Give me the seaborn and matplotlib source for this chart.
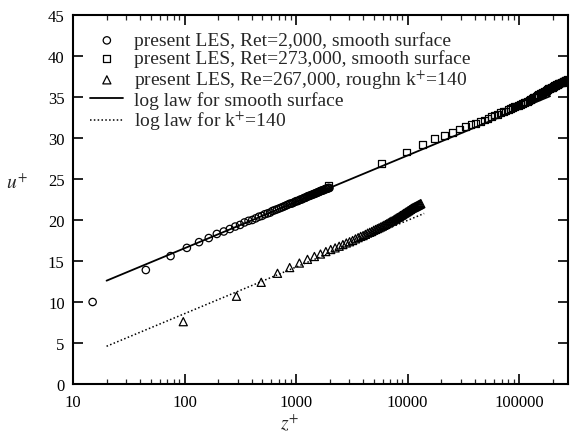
import matplotlib
matplotlib.use("Agg")
import matplotlib.pyplot as plt
import seaborn as sns
import numpy as np
from matplotlib.ticker import LogLocator, FixedLocator, NullFormatter, FixedFormatter

# ---- data ----
z_smooth_lo = [15, 45, 75, 105, 135, 165, 195, 225, 255, 285, 315, 345, 375, 405, 435,
               465, 495, 525, 555, 585, 615, 645, 675, 705, 735, 765, 795, 825, 855, 885,
               915, 945, 975, 1005, 1035, 1065, 1095, 1125, 1155, 1185, 1215, 1245, 1275,
               1305, 1335, 1365, 1395, 1425, 1455, 1485, 1515, 1545, 1575, 1605, 1635,
               1665, 1695, 1725, 1755, 1785, 1815, 1845, 1875, 1905, 1935, 1965, 1995]
u_smooth_lo = [10.0, 13.9, 15.6, 16.6, 17.3, 17.8, 18.3, 18.6, 18.9, 19.2, 19.4, 19.7, 19.9,
               20.0, 20.2, 20.4, 20.5, 20.7, 20.8, 20.9, 21.1, 21.2, 21.3, 21.4, 21.5, 21.6,
               21.7, 21.8, 21.9, 22.0, 22.0, 22.1, 22.2, 22.3, 22.3, 22.4, 22.5, 22.5, 22.6,
               22.7, 22.7, 22.8, 22.9, 22.9, 23.0, 23.0, 23.1, 23.1, 23.2, 23.2, 23.3, 23.3,
               23.4, 23.4, 23.5, 23.5, 23.6, 23.6, 23.6, 23.7, 23.7, 23.8, 23.8, 23.8, 23.9,
               23.9, 23.9]

z_smooth_hi = [1950, 5850, 9750, 13650, 17550, 21450, 25350, 29250, 33150, 37050, 40950,
               44850, 48750, 52650, 56550, 60450, 64350, 68250, 72150, 76050, 79950, 83850,
               87750, 91650, 95550, 99450, 103350, 107250, 111150, 115050, 118950, 122850,
               126750, 130650, 134550, 138450, 142350, 146250, 150150, 154050, 157950,
               161850, 165750, 169650, 173550, 177450, 181350, 185250, 189150, 193050,
               196950, 200850, 204750, 208650, 212550, 216450, 220350, 224250, 228150,
               232050, 235950, 239850, 243750, 247650, 251550, 255450, 259350, 263250,
               267150, 271050]
u_smooth_hi = [24.2, 26.9, 28.3, 29.2, 29.9, 30.3, 30.7, 31.1, 31.4, 31.6, 31.8, 32.0, 32.2,
               32.4, 32.6, 32.8, 32.9, 33.1, 33.2, 33.3, 33.5, 33.6, 33.7, 33.8, 33.9, 34.0,
               34.1, 34.2, 34.3, 34.4, 34.5, 34.6, 34.7, 34.8, 34.9, 35.0, 35.1, 35.2, 35.3,
               35.4, 35.4, 35.5, 35.6, 35.7, 35.7, 35.8, 35.9, 36.0, 36.0, 36.1, 36.2, 36.2,
               36.3, 36.4, 36.4, 36.5, 36.5, 36.6, 36.6, 36.7, 36.7, 36.8, 36.8, 36.9, 36.9,
               36.9, 37.0, 37.0, 37.0, 37.1]

z_rough = [97.5, 292.5, 487.5, 682.5, 877.5, 1072.5, 1267.5, 1462.5, 1657.5, 1852.5, 2047.5,
           2242.5, 2437.5, 2632.5, 2827.5, 3022.5, 3217.5, 3412.5, 3607.5, 3802.5, 3997.5,
           4192.5, 4387.5, 4582.5, 4777.5, 4972.5, 5167.5, 5362.5, 5557.5, 5752.5, 5947.5,
           6142.5, 6337.5, 6532.5, 6727.5, 6922.5, 7117.5, 7312.5, 7507.5, 7702.5, 7897.5,
           8092.5, 8287.5, 8482.5, 8677.5, 8872.5, 9067.5, 9262.5, 9457.5, 9652.5, 9847.5,
           10042.5, 10237.5, 10432.5, 10627.5, 10822.5, 11017.5, 11212.5, 11407.5, 11602.5,
           11797.5, 11992.5, 12187.5, 12382.5, 12577.5, 12772.5, 12967.5, 13162.5]
u_rough = [7.6, 10.7, 12.4, 13.5, 14.2, 14.75, 15.2, 15.55, 15.85, 16.15, 16.4, 16.6, 16.8,
           17.0, 17.2, 17.35, 17.5, 17.7, 17.85, 18.0, 18.1, 18.25, 18.4, 18.5, 18.6, 18.75,
           18.85, 18.95, 19.05, 19.15, 19.25, 19.35, 19.45, 19.55, 19.65, 19.75, 19.85, 19.9,
           20.0, 20.1, 20.2, 20.3, 20.35, 20.45, 20.55, 20.6, 20.7, 20.8, 20.85, 20.95, 21.0,
           21.1, 21.15, 21.25, 21.3, 21.4, 21.45, 21.5, 21.55, 21.6, 21.65, 21.7, 21.75, 21.8,
           21.85, 21.9, 21.95, 22.0]

z_loglaw_smooth = [20, 190000]
u_loglaw_smooth = [12.6, 35.1]
z_loglaw_rough = [20, 14100]
u_loglaw_rough = [4.6, 20.8]

labels = ["present LES, Ret=2,000, smooth surface",
          "present LES, Ret=273,000, smooth surface",
          "present LES, Re=267,000, roughn k$^{+}$=140",
          "log law for smooth surface",
          "log law for k$^{+}$=140"]
x_ticks = [10, 100, 1000, 10000, 100000]
x_ticklabels = ["10", "100", "1000", "10000", "100000"]
y_ticks = [0, 5, 10, 15, 20, 25, 30, 35, 40, 45]

# ---- style ----
sns.set_style("ticks")
plt.rcParams["font.family"] = ["Liberation Serif", "DejaVu Serif"]
plt.rcParams["mathtext.fontset"] = "stix"

fig = plt.figure(figsize=(5.7, 4.35), dpi=100)
ax = fig.add_axes([73 / 570, 50 / 435, 495 / 570, 369 / 435])

mk = dict(color="none", edgecolor="black", linewidth=0.9)
sns.scatterplot(x=z_smooth_lo, y=u_smooth_lo, marker="o", s=28, ax=ax, **mk, label=labels[0])
sns.scatterplot(x=z_smooth_hi, y=u_smooth_hi, marker="s", s=24, ax=ax, **mk, label=labels[1])
sns.scatterplot(x=z_rough, y=u_rough, marker="^", s=34, ax=ax, **mk, label=labels[2])
sns.lineplot(x=z_loglaw_smooth, y=u_loglaw_smooth, color="black", linewidth=1.3,
             ax=ax, label=labels[3])
sns.lineplot(x=z_loglaw_rough, y=u_loglaw_rough, color="black", linewidth=1.1,
             linestyle=(0, (1, 1.5)), ax=ax, label=labels[4])

ax.set_xscale("log")
ax.set_xlim(10, 2.75e5)
ax.set_ylim(0, 45)
ax.xaxis.set_major_locator(FixedLocator(x_ticks))
ax.xaxis.set_major_formatter(FixedFormatter(x_ticklabels))
ax.xaxis.set_minor_locator(LogLocator(base=10, subs=(2, 3, 4, 5, 6, 7, 8, 9), numticks=20))
ax.xaxis.set_minor_formatter(NullFormatter())
ax.set_yticks(y_ticks)

ax.tick_params(which="major", direction="in", length=7, width=1.2, top=True, right=True,
               labelsize=12, colors="black")
ax.tick_params(which="minor", direction="in", length=3.5, width=0.9, top=True, right=True)
ax.tick_params(axis="x", pad=7)
ax.tick_params(axis="y", pad=6)
for s in ax.spines.values():
    s.set_linewidth(1.5)
    s.set_color("black")

ax.set_xlabel("$z^{+}$", fontsize=14)
ax.xaxis.set_label_coords(0.437, -0.104)
ax.xaxis.label.set_va("center")
ax.set_ylabel("$u^{+}$", fontsize=14, rotation=0)
ax.yaxis.set_label_coords(-0.113, 0.548)
ax.yaxis.label.set_va("center")

h, l = ax.get_legend_handles_labels()
order = [l.index(t) for t in labels]
leg = ax.legend([h[i] for i in order], [l[i] for i in order], loc="upper left",
                bbox_to_anchor=(0.035, 0.955), frameon=False, fontsize=14,
                labelspacing=0.0, handlelength=1.7, handletextpad=0.55, borderpad=0,
                borderaxespad=0)

fig.savefig("out.png", dpi=100)
